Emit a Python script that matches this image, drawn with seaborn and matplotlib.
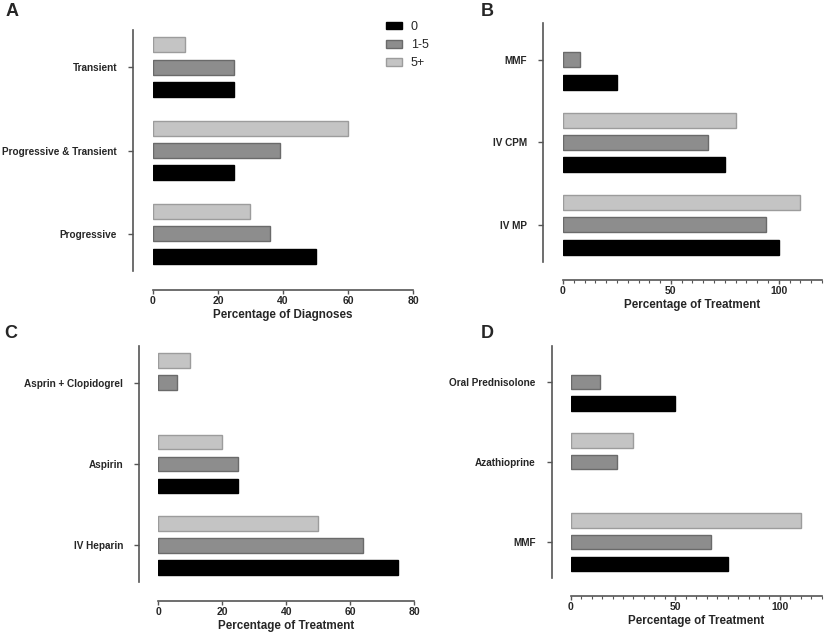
import numpy as np
import pandas as pd
import matplotlib
matplotlib.use("Agg")
import matplotlib.pyplot as plt
from matplotlib.patches import Patch
from matplotlib.ticker import MultipleLocator
import seaborn as sns

sns.set_style("white")
plt.rcParams['font.family'] = ['Liberation Sans', 'DejaVu Sans']

# ---------------- data ----------------
groups = ["0", "1-5", "5+"]

a_categories = ["Transient", "Progressive & Transient", "Progressive"]
a_0 = [25, 25, 50]
a_1_5 = [25, 39, 36]
a_5p = [10, 60, 30]

b_categories = ["MMF", "IV CPM", "IV MP"]
b_0 = [25, 75, 100]
b_1_5 = [8, 67, 94]
b_5p = [np.nan, 80, 110]

c_categories = ["Asprin + Clopidogrel", "Aspirin", "IV Heparin"]
c_0 = [np.nan, 25, 75]
c_1_5 = [6, 25, 64]
c_5p = [10, 20, 50]

d_categories = ["Oral Prednisolone", "Azathioprine", "MMF"]
d_0 = [50, np.nan, 75]
d_1_5 = [14, 22, 67]
d_5p = [np.nan, 30, 110]

fills = {"0": "#000000", "1-5": "#8d8d8d", "5+": "#c4c4c4"}
edges = {"0": "#000000", "1-5": "#6a6a6a", "5+": "#9c9c9c"}
hue_order = ["5+", "1-5", "0"]

W, H = 829, 638
DPI = 100
PT = 72.0 / DPI  # points per pixel
fig = plt.figure(figsize=(W / DPI, H / DPI), dpi=DPI)


def make_df(cats, v0, v1, v5):
    rows = []
    for g, vals in zip(groups, [v0, v1, v5]):
        for c, v in zip(cats, vals):
            rows.append({"cat": c, "group": g, "value": v})
    return pd.DataFrame(rows).dropna()


def panel(rect_px, cats, v0, v1, v5, xlim, major, minor, xlabel, letter, letter_xy, offs):
    l, r, t, b = rect_px
    ax = fig.add_axes([l / W, 1 - b / H, (r - l) / W, (b - t) / H])
    df = make_df(cats, v0, v1, v5)
    sns.barplot(data=df, x="value", y="cat", hue="group", order=cats,
                hue_order=hue_order, palette=fills, orient="h",
                width=0.81, gap=0.33, errorbar=None, legend=False,
                linewidth=1.0, ax=ax)
    for cont, g in zip(ax.containers, hue_order):
        for p in cont:
            p.set_edgecolor(edges[g])
    ax.set_xlim(*xlim)
    ax.set_ylim(2.45, -0.45)
    ax.set_ylabel("")
    ax.set_xlabel(xlabel, fontsize=8.4, fontweight="bold", labelpad=2)
    ax.xaxis.set_major_locator(MultipleLocator(major))
    if minor:
        ax.xaxis.set_minor_locator(MultipleLocator(minor))
    for s in ["top", "right"]:
        ax.spines[s].set_visible(False)
    ax.spines["left"].set_position(("outward", offs[0] * PT))
    ax.spines["bottom"].set_position(("outward", offs[1] * PT))
    for s in ["left", "bottom"]:
        ax.spines[s].set_color("#555555")
        ax.spines[s].set_linewidth(1.2)
    ax.tick_params(axis="y", which="major", direction="out", length=5 * PT, width=1.0,
                   color="#555555", left=True, pad=11 * PT, labelsize=7.2)
    ax.tick_params(axis="x", which="major", direction="out", length=4 * PT, width=1.0,
                   color="#555555", bottom=True, pad=2 * PT, labelsize=7.5)
    ax.tick_params(axis="x", which="minor", direction="out", length=3 * PT, width=0.8,
                   color="#555555", bottom=True)
    for lab in ax.get_xticklabels() + ax.get_yticklabels():
        lab.set_fontweight("bold")
    fig.text(letter_xy[0] / W, 1 - letter_xy[1] / H, letter, fontsize=13,
             fontweight="bold", ha="left", va="top")
    return ax


axA = panel((153, 413, 30, 271), a_categories, a_0, a_1_5, a_5p, (0, 80), 20, None,
            "Percentage of Diagnoses", "A", (6, 3), (20, 19))
axB = panel((563, 822, 22.7, 262), b_categories, b_0, b_1_5, b_5p, (0, 120), 50, 5,
            "Percentage of Treatment", "B", (481, 3), (20, 18))
axC = panel((158.3, 414.3, 346, 582), c_categories, c_0, c_1_5, c_5p, (0, 80), 20, None,
            "Percentage of Treatment", "C", (4, 325), (19, 19))
axD = panel((570.7, 821.8, 346, 578.3), d_categories, d_0, d_1_5, d_5p, (0, 120), 50, 5,
            "Percentage of Treatment", "D", (481, 325), (19, 18))

handles = [Patch(facecolor=fills[g], edgecolor=edges[g], linewidth=1.0, label=g) for g in groups]
fig.legend(handles=handles, loc="upper left", bbox_to_anchor=(386 / W, 1 - 21 / H),
           frameon=False, fontsize=9, handlelength=1.3, handleheight=0.55,
           labelspacing=0.5, handletextpad=0.7, borderpad=0, borderaxespad=0)

fig.savefig("out.png", dpi=DPI)
